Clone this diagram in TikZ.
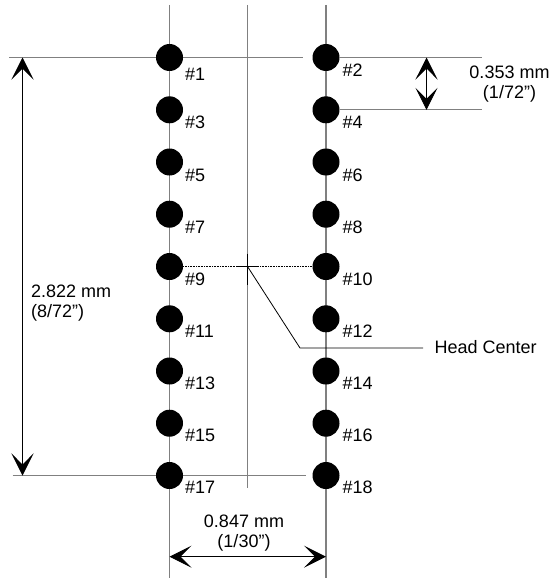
\documentclass[tikz,border=0pt]{standalone}
\usepackage{fontspec}
\setmainfont{Liberation Sans}
\usetikzlibrary{arrows.meta}
\tikzset{
  hole/.style={circle, fill=black, inner sep=0pt, minimum size=27pt},
  pin/.style={anchor=west, inner sep=0pt},
  dim/.style={align=center, inner sep=0pt},
  guide/.style={gray, line width=1.2pt},
  dimarrow/.style={line width=0.9pt, {Stealth[length=22pt, width=22pt, inset=11pt]}-{Stealth[length=22pt, width=22pt, inset=11pt]}},
}
\begin{document}
\begin{tikzpicture}[x=1pt, y=-1pt, every node/.append style={font=\fontsize{18}{20}\selectfont}]
  \useasboundingbox (0, 0) rectangle (550, 578);
  \coordinate (lefttop) at (169.5, 5);
  \coordinate (leftbot) at (169.5, 578);
  \coordinate (righttop) at (326, 5);
  \coordinate (rightbot) at (326, 578);
  \coordinate (midtop) at (247.5, 5);
  \coordinate (midbot) at (247.5, 488);
  \coordinate (topl) at (9, 57.5);
  \coordinate (topm) at (302.5, 57.5);
  \coordinate (botl) at (12.5, 475.5);
  \coordinate (botm) at (306, 475.5);
  \draw[guide] (lefttop) -- (leftbot);
  \draw[guide] (righttop) -- (rightbot);
  \draw[gray, line width=0.7pt] (midtop) -- (midbot);
  \draw[guide] (topl) -- (topm) (botl) -- (botm);

  \foreach \n/\y/\d in {1/57.5/17, 3/109.8/13, 5/162/13, 7/214.2/13, 9/266.5/12.5, 11/318.8/12.5, 13/371/12.5, 15/423.2/12.5, 17/475.5/12} {
    \node[hole] (h\n) at (169.5, \y) {};
    \node[pin] (t\n) at (185, \y + \d) {\#\n};
  }
  \foreach \n/\y/\d in {2/57.5/13, 4/109.8/13, 6/162/13, 8/214.2/13, 10/266.5/12.5, 12/318.8/12.5, 14/371/12.5, 16/423.2/12.5, 18/475.5/12} {
    \node[hole] (h\n) at (326, \y) {};
    \node[pin] (t\n) at (342.5, \y + \d) {\#\n};
  }

  \coordinate (topr) at (482, 57.5);
  \coordinate (nextr) at (482, 109.8);
  \draw[guide] (h2) -- (topr) (h4) -- (nextr);
  \draw[dash pattern=on 1pt off 0.6pt, line width=0.9pt] (h9) -- (h10);

  % dimensions
  \coordinate (tall1) at (22.5, 57.5);
  \coordinate (tall2) at (22.5, 475.5);
  \coordinate (small1) at (426.5, 57.5);
  \coordinate (small2) at (426.5, 109.8);
  \coordinate (wide1) at (169.5, 556.7);
  \coordinate (wide2) at (326, 556.7);
  \draw[dimarrow] (tall1) -- (tall2);
  \draw[dimarrow] (small1) -- (small2);
  \draw[dimarrow] (wide1) -- (wide2);
  \node[dim, align=left, anchor=north west] (tallt) at (31, 285) {2.822 mm\\(8/72")};
  \node[dim] (smallt) at (509.5, 84.5) {0.353 mm\\(1/72'')};
  \node[dim] (widet) at (244, 533) {0.847 mm\\(1/30'')};

  % head center
  \coordinate (center) at (247.5, 266.5);
  \coordinate (bend) at (300, 348);
  \coordinate (tickn) at (247.5, 253.5);
  \coordinate (ticks) at (247.5, 285);
  \coordinate (tickw) at (236, 266.5);
  \coordinate (ticke) at (259, 266.5);
  \coordinate (headend) at (423, 348);
  \node[anchor=west, inner sep=0pt] (head) at (434.5, 347) {Head Center};
  \draw[line width=0.8pt] (tickn) -- (ticks) (tickw) -- (ticke);
  \draw[line width=0.8pt] (center) -- (bend) -- (headend);
\end{tikzpicture}
\end{document}
